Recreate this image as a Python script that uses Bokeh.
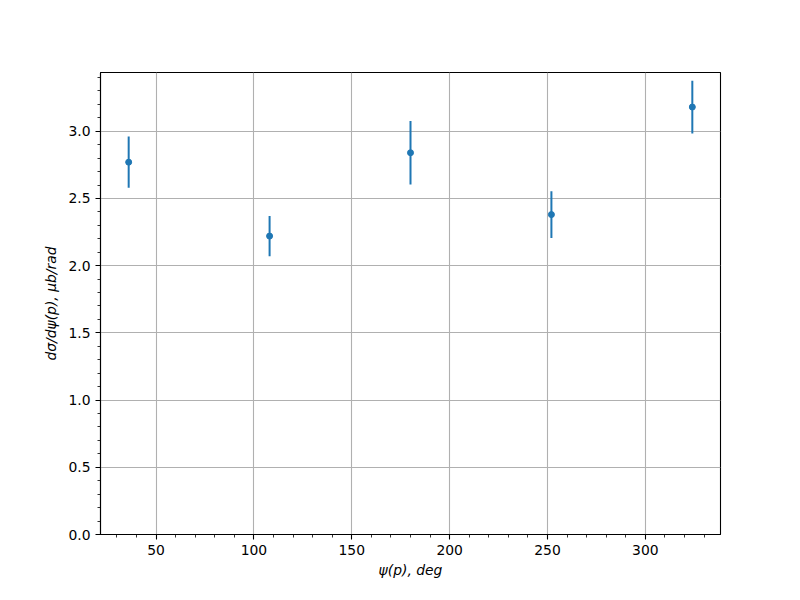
from bokeh.plotting import figure
from bokeh.models import ColumnDataSource, Range1d, SingleIntervalTicker, PrintfTickFormatter
from bokeh.embed import file_html
from bokeh.resources import INLINE

# data
psi_deg = [36, 108, 180, 252, 324]
dsigma = [2.77, 2.22, 2.84, 2.38, 3.18]
dsigma_err = [0.19, 0.15, 0.237, 0.174, 0.196]

lower = [v - e for v, e in zip(dsigma, dsigma_err)]
upper = [v + e for v, e in zip(dsigma, dsigma_err)]
src = ColumnDataSource(dict(x=psi_deg, y=dsigma, lo=lower, hi=upper))

W, H = 784, 584
p = figure(width=W, height=H, output_backend="svg", toolbar_location=None,
           x_range=Range1d(21.6, 338.4), y_range=Range1d(0, 3.437),
           min_border_left=100, min_border_right=64, min_border_top=72, min_border_bottom=50)

p.background_fill_color = "white"
p.border_fill_color = "white"
p.outline_line_color = "black"
p.outline_line_width = 1.1

FONT = "DejaVu Sans"
for ax in (p.xaxis[0], p.yaxis[0]):
    ax.major_label_text_font = FONT
    ax.major_label_text_font_size = "13.9px"
    ax.major_label_text_color = "black"
    ax.axis_label_text_font = FONT
    ax.axis_label_text_font_size = "13.9px"
    ax.axis_label_text_font_style = "italic"
    ax.axis_label_text_color = "black"
    ax.axis_line_color = "black"
    ax.axis_line_width = 1.1
    ax.major_tick_line_color = "black"
    ax.major_tick_line_width = 1.1
    ax.minor_tick_line_color = "black"
    ax.minor_tick_line_width = 0.8
    ax.major_tick_in = 0
    ax.major_tick_out = 5
    ax.minor_tick_in = 0
    ax.minor_tick_out = 3
    ax.major_label_standoff = 5

p.xaxis.ticker = SingleIntervalTicker(interval=50, num_minor_ticks=5)
p.yaxis.ticker = SingleIntervalTicker(interval=0.5, num_minor_ticks=5)
p.yaxis.formatter = PrintfTickFormatter(format="%.1f")
p.xgrid.ticker = p.xaxis.ticker
p.ygrid.ticker = p.yaxis.ticker

p.xaxis.axis_label = "ψ(p), deg"
p.yaxis.axis_label = "dσ/dψ(p), μb/rad"
p.xaxis.axis_label_standoff = 4
p.yaxis.axis_label_standoff = 6

for g in (p.xgrid[0], p.ygrid[0]):
    g.grid_line_color = "#b0b0b0"
    g.grid_line_width = 1.1

p.segment(x0="x", y0="lo", x1="x", y1="hi", source=src, line_color="#1f77b4", line_width=2)
p.scatter(x="x", y="y", source=src, size=6, marker="circle", fill_color="#1f77b4", line_color="#1f77b4")

open("out.html", "w").write(file_html(p, INLINE))
